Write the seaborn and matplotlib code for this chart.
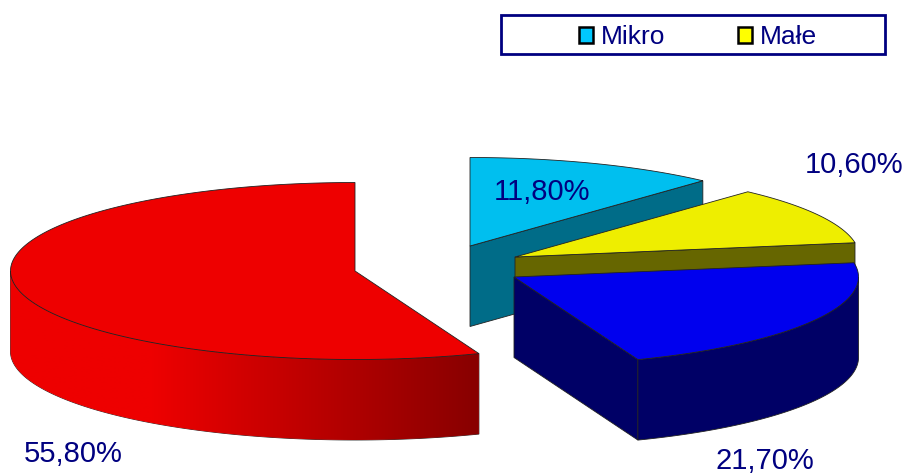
import numpy as np
import matplotlib
matplotlib.use("Agg")
import matplotlib.pyplot as plt
from matplotlib.patches import Patch, Polygon, Rectangle
import seaborn as sns

# ---- data ----
categories = ["Mikro", "Małe", "Średnie", "Duże"]
shares = [11.8, 10.6, 21.7, 55.8]
legend_items = ["Mikro", "Małe"]

# ---- styles ----
top_colors = ["#00BFEF", "#EEEE00", "#0000EE", "#EE0000"]
side_colors = ["#006C88", "#666600", "#000066", "#EE0000"]
legend_colors = ["#00C8FF", "#FFFF00"]
text_color = "#000080"
centers = [(470, 246), (515, 257), (514, 277), (355, 271)]
label_xy = [(542.5, 191.5), (854.5, 164.5), (764.5, 460.5), (73, 453.5)]
RX, RY, DEPTH = 344.5, 88.5, 80.5

sns.set_theme(style="white")
plt.rcParams["font.family"] = ["Liberation Sans", "DejaVu Sans"]

fig, ax = plt.subplots(figsize=(9.04, 4.73), dpi=100)
fig.subplots_adjust(0, 0, 1, 1)
ax.axis("off")

EDGE = dict(edgecolor="#222222", linewidth=0.6)


def arc(cx, cy, a0, a1, n=240):
    """Ellipse points, angle in degrees clockwise from 12 o'clock."""
    t = np.radians(np.linspace(a0, a1, n))
    return np.column_stack([cx + RX * np.sin(t), cy - RY * np.cos(t)])


def front_part(a0, a1):
    """Part of the angle range whose outer wall faces the viewer (90..270)."""
    lo, hi = max(a0, 90), min(a1, 270)
    return (lo, hi) if hi > lo else None


edges = np.cumsum([0] + shares) / sum(shares) * 360

for i, (cx, cy) in enumerate(centers):
    a0, a1 = edges[i], edges[i + 1]
    z = 2 + i

    # radial wall facing the viewer
    if i < 3:
        p = arc(cx, cy, a1, a1, 1)[0]
        ax.add_patch(Polygon([(cx, cy), p, p + [0, DEPTH], (cx, cy + DEPTH)],
                             closed=True, facecolor=side_colors[i], zorder=z, **EDGE))

    # outer wall
    part = front_part(a0, a1)
    if part is not None:
        pts = arc(cx, cy, *part)
        low = pts + [0, DEPTH]
        outline = np.vstack([pts, low[::-1]])
        if i == 3:
            # shaded wall of the large slice, dark toward its right end
            x0, x1 = outline[:, 0].min(), outline[:, 0].max()
            y0, y1 = outline[:, 1].min(), outline[:, 1].max()
            flat = int(round(150 - x0))
            ramp = sns.blend_palette(["#EE0000", "#880000"], int(x1 - x0) - flat)
            strip = [ramp[0]] * flat + list(ramp)
            shape = Polygon(outline, closed=True, fill=False, zorder=z, **EDGE)
            ax.add_patch(shape)
            img = ax.imshow(np.array(strip)[None, :, :], extent=(x0, x1, y1, y0),
                            aspect="auto", interpolation="bilinear", zorder=z)
            img.set_clip_path(shape)
        else:
            ax.add_patch(Polygon(outline, closed=True,
                                 facecolor=side_colors[i], zorder=z, **EDGE))

    # top face
    rim = arc(cx, cy, a0, a1)
    ax.add_patch(Polygon(np.vstack([[cx, cy], rim]), closed=True,
                         facecolor=top_colors[i], zorder=z + 0.5, **EDGE))

ax.set_xlim(0, 904)
ax.set_ylim(473, 0)

# value labels
for v, (x, y) in zip(shares, label_xy):
    ax.text(x, y, f"{v:.2f}".replace(".", ",") + "%", ha="center", va="center",
            fontsize=21, color=text_color, zorder=10)

# legend
ax.add_patch(Rectangle((501, 15.5), 384, 38.5, fill=False, edgecolor="#000080",
                       linewidth=2, zorder=9))
handles = [Patch(facecolor=c, edgecolor="black", linewidth=1.8) for c in legend_colors]
leg = ax.legend(handles, legend_items, ncol=2, frameon=False, fontsize=19,
                labelcolor=text_color, loc="center", bbox_to_anchor=(698, 37.5),
                bbox_transform=ax.transData, handlelength=0.55, handleheight=0.55,
                handletextpad=0.3, columnspacing=2.75, borderpad=0, borderaxespad=0)

fig.savefig("out.png", dpi=100)
